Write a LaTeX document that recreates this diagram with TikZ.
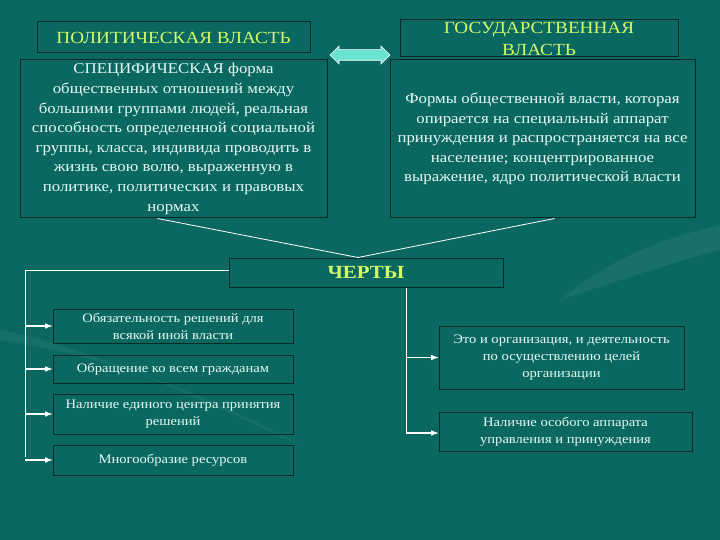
\documentclass[tikz,border=0pt]{standalone}
\usepackage{fontspec}
\setmainfont{Liberation Serif}[FakeStretch=1.13]
\usepackage{xcolor}
\usetikzlibrary{positioning,calc,shapes.arrows}

\definecolor{fondvert}{RGB}{11,104,97}
\definecolor{bord}{RGB}{8,42,39}
\definecolor{jaunevert}{RGB}{210,250,105}
\definecolor{clair}{RGB}{228,248,244}
\definecolor{turquoise}{RGB}{105,228,208}

\begin{document}
\begin{tikzpicture}[x=1pt,y=-1pt]

\tikzstyle{entete}=[rectangle, draw=bord, line width=1pt, text=jaunevert, font=\fontsize{17}{22}\selectfont, align=center, inner sep=0pt]
\tikzstyle{defin}=[rectangle, draw=bord, line width=1pt, text=clair, font=\fontsize{14.9}{19.6}\selectfont, align=center, inner sep=0pt]
\tikzstyle{trait}=[rectangle, draw=bord, line width=1pt, text=clair, font=\fontsize{12.9}{17}\selectfont, align=center, inner sep=0pt]
\tikzstyle{lien}=[white, line width=0.8pt]
\tikzstyle{vers}=[->, >=latex, white, line width=1.5pt]

%fond
\fill[fondvert] (0,0) rectangle (720,540);
\fill[white, opacity=0.06] (560,300) .. controls (620,250) and (680,235) .. (720,225) -- (720,250) .. controls (680,260) and (620,280) .. (560,300);
\fill[white, opacity=0.05] (0,330) .. controls (100,350) and (200,400) .. (300,445) .. controls (200,390) and (100,355) .. (0,340);

%blocs du haut
\node[entete, minimum width=273, minimum height=31] (polit) at (173.5,37.5) {ПОЛИТИЧЕСКАЯ ВЛАСТЬ};
\node[entete, minimum width=278, minimum height=37] (gos) at (539,38.5) {ГОСУДАРСТВЕННАЯ\\ВЛАСТЬ};
\node[double arrow, fill=turquoise, draw=white, line width=0.6pt, minimum height=60, minimum width=18, inner sep=4, double arrow head extend=3] (egal) at (360,55) {};

\node[defin, minimum width=307, minimum height=158] (politdef) at (173.5,139) {СПЕЦИФИЧЕСКАЯ форма\\общественных отношений между\\большими группами людей, реальная\\способность определенной социальной\\группы, класса, индивида проводить в\\жизнь свою волю, выраженную в\\политике, политических и правовых\\нормах};
\node[defin, minimum width=305, minimum height=158] (gosdef) at (542.5,139) {Формы общественной власти, которая\\опирается на специальный аппарат\\принуждения и распространяется на все\\население; концентрированное\\выражение, ядро политической власти};

%черты
\node[entete, font=\fontsize{18.5}{20}\bfseries, minimum width=274, minimum height=29] (cherty) at (366,272.5) {ЧЕРТЫ};

\node[trait, minimum width=240, minimum height=34] (b1) at (173,326) {Обязательность решений для\\всякой иной власти};
\node[trait, minimum width=240, minimum height=28] (b2) at (173,369) {Обращение ко всем гражданам};
\node[trait, minimum width=240, minimum height=40] (b3) at (173,414) {Наличие единого центра принятия\\решений};
\node[trait, minimum width=240, minimum height=30] (b4) at (173,460) {Многообразие ресурсов};

\node[trait, minimum width=245, minimum height=63] (rA) at (561.5,357.5) {Это и организация, и деятельность\\по осуществлению целей\\организации};
\node[trait, minimum width=253, minimum height=39] (rB) at (565.5,431.5) {Наличие особого аппарата\\управления и принуждения};

%flèches
\draw[lien] ([xshift=-16]politdef.south) -- ([xshift=-8]cherty.north);
\draw[lien] ([xshift=12]gosdef.south) -- ([xshift=-8]cherty.north);

\coordinate (gauche) at (25,457);
\draw[lien] ([yshift=2.5]cherty.west) -| (gauche);
\foreach \b in {b1,b2,b3,b4}
  \draw[vers] (gauche |- \b.west) -- (\b.west);

\coordinate (droite) at (406,433);
\draw[lien] (cherty.south -| droite) -- (droite);
\draw[vers] (droite |- rA.west) -- (rA.west);
\draw[vers] (droite) -- (droite -| rB.west);
\end{tikzpicture}
\end{document}
